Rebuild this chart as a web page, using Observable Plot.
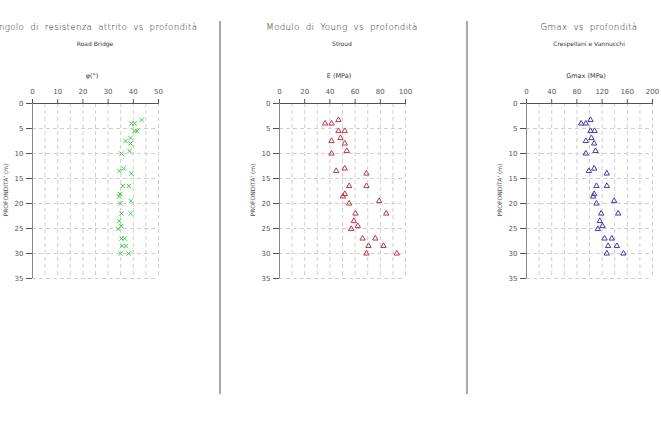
<!DOCTYPE html>
<html><head><meta charset="utf-8">
<script src="https://cdn.jsdelivr.net/npm/d3@7"></script>
<script src="https://cdn.jsdelivr.net/npm/@observablehq/plot@0.6"></script>
<style>
body{margin:0;background:#fff;}
#wrap{position:relative;width:661px;height:430px;overflow:hidden;font-family:"DejaVu Sans",sans-serif;}
.panel{position:absolute;top:0;}
.sep{position:absolute;top:21px;height:373px;width:2px;background:#a8a8a8;}
.t{position:absolute;transform:translateX(-50%);white-space:nowrap;line-height:1;}
.title{top:23px;font-size:8.7px;color:#222;word-spacing:3px;letter-spacing:0.3px;font-weight:300;}
.sub{top:41px;font-size:6px;color:#333;}
.xl{top:73px;font-size:6.5px;color:#333;}
.yl{position:absolute;top:190px;font-size:6px;color:#555;white-space:nowrap;line-height:1;transform:translate(-50%,-50%) rotate(-90deg);}
</style></head>
<body><div id="wrap"></div>
<script>
// depth (m)
const depth = [3.3,4.0,4.0,5.5,5.5,6.9,7.5,8.0,9.5,10.0,13.0,13.5,14.0,16.5,16.5,18.1,18.6,19.5,20.0,22.0,22.0,23.5,24.5,25.1,27.0,27.0,28.5,28.5,30.0,30.0];
// angolo di resistenza attrito (°) - Road Bridge
const phi = [43.3,39.3,40.5,40.5,41.5,38.9,36.9,38.9,38.5,35.3,36.2,34.5,39.2,35.8,38.2,34.7,34.3,39.0,34.8,35.3,39.0,34.4,35.2,34.1,35.3,36.6,35.6,37.0,35.0,38.2];
// modulo di Young E (MPa) - Stroud
const E = [46.8,36.2,41.3,46.8,51.8,48.4,41.3,51.8,53.4,41.3,51.8,45.0,69.0,55.3,69.0,51.8,50.3,79.1,55.3,60.3,84.7,59.0,62.2,56.9,65.9,76.0,70.6,82.5,69.0,93.1];
// Gmax (MPa) - Crespellani e Vannucchi
const G = [101.6,86.8,94.2,101.6,107.9,103.0,94.2,107.4,109.5,94.2,107.4,99.0,127.5,111.0,127.5,107.4,105.9,139.2,111.1,118.5,145.5,116.4,120.6,113.2,123.8,135.4,129.6,143.4,127.5,154.0];

const depthTicks = [0,5,10,15,20,25,30,35];
const phiTicks = [0,10,20,30,40,50];
const eTicks = [0,20,40,60,80,100];
const gTicks = [0,40,80,120,160,200];
const titles = ["Angolo di resistenza attrito vs profondità","Modulo di Young vs profondità","Gmax vs profondità"];
const subtitles = ["Road Bridge","Stroud","Crespellani e Vannucchi"];
const xLabels = ["φ(°)","E (MPa)","Gmax (MPa)"];
const yLabel = "PROFONDITA' (m)";

const wrap = document.getElementById("wrap");

function panel(cfg){
  const data = depth.map((d,i)=>({d, v: cfg.values[i]}));
  const gridVals = d3.range(cfg.domain[0]+cfg.gridStep, cfg.domain[1]+0.001, cfg.gridStep);
  const svg = Plot.plot({
    width: cfg.width, height: 400,
    marginLeft: cfg.mL, marginRight: cfg.width - cfg.mL - 126, marginTop: 103, marginBottom: 122,
    x: {domain: cfg.domain},
    y: {domain: [0,35], reverse: true},
    style: {fontFamily: "DejaVu Sans, sans-serif", fontSize: "7px", color: "#555", background: "transparent", overflow: "visible"},
    marks: [
      Plot.gridX(gridVals, {stroke: "#cfcfcf", strokeOpacity: 1, strokeDasharray: "4,3"}),
      Plot.gridY(depthTicks.slice(1), {stroke: "#cfcfcf", strokeOpacity: 1, strokeDasharray: "4,3"}),
      Plot.axisX({anchor: "top", ticks: cfg.ticks, tickSize: 5, tickPadding: 5, label: null, stroke: "#555", fill: "#555"}),
      Plot.axisY({anchor: "left", ticks: depthTicks, tickSize: 6, tickPadding: 3, label: null, stroke: "#555", fill: "#555"}),
      Plot.ruleY([0], {stroke: "#555"}),
      Plot.ruleX([cfg.domain[0]], {stroke: "#888"}),
      Plot.dot(data, {x: "v", y: "d", symbol: cfg.symbol, r: cfg.r, stroke: cfg.color, fill: "none", strokeWidth: 1})
    ]
  });
  svg.classList.add("panel");
  svg.style.left = cfg.left + "px";
  wrap.appendChild(svg);
  const cx = cfg.left + cfg.mL + 63;
  const add = (cls, txt, x) => { const e = document.createElement("div"); e.className = "t " + cls; e.textContent = txt; e.style.left = x + "px"; wrap.appendChild(e); };
  add("title", cfg.title, cx);
  add("sub", cfg.sub, cx);
  add("xl", cfg.xl, cx - 3);
  const y = document.createElement("div"); y.className = "yl"; y.textContent = yLabel; y.style.left = (cfg.left + cfg.mL - 26) + "px"; wrap.appendChild(y);
}

panel({values: phi, domain: [0,50], ticks: phiTicks, gridStep: 5, symbol: "times", r: 2.1, color: "#3fcf3f", left: 0, width: 219, mL: 32, title: titles[0], sub: subtitles[0], xl: xLabels[0]});
panel({values: E, domain: [0,100], ticks: eTicks, gridStep: 10, symbol: "triangle", r: 2.0, color: "#c0394a", left: 221, width: 245, mL: 58, title: titles[1], sub: subtitles[1], xl: xLabels[1]});
panel({values: G, domain: [0,200], ticks: gTicks, gridStep: 20, symbol: "triangle", r: 2.0, color: "#4a38a8", left: 469, width: 192, mL: 57, title: titles[2], sub: subtitles[2], xl: xLabels[2]});

for (const x of [219, 466]) { const s = document.createElement("div"); s.className = "sep"; s.style.left = x + "px"; wrap.appendChild(s); }
</script>
</body></html>
